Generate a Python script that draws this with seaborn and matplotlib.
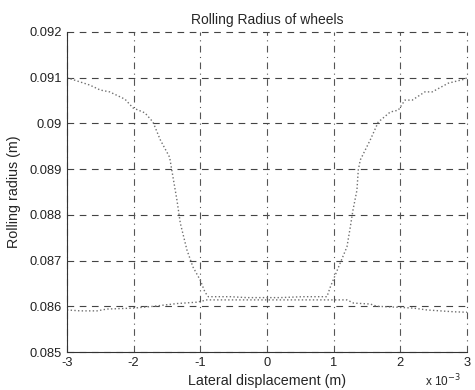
import matplotlib
matplotlib.use("Agg")
import matplotlib.pyplot as plt
import seaborn as sns
import pandas as pd

# Lateral displacement in units of 1e-3 m
upper_x = [-3.0, -2.66, -2.5, -2.36, -2.13, -2.01, -1.83, -1.71, -1.6, -1.46, -1.41,
           -1.35, -1.3, -1.2, -1.11, -1.0, -0.93, -0.88, -0.55, -0.3, 0.2, 0.54, 0.9,
           0.95, 1.1, 1.2, 1.25, 1.29, 1.35, 1.37, 1.4, 1.55, 1.67, 1.85, 1.97, 2.07,
           2.18, 2.37, 2.48, 2.72, 2.97, 3.0]
upper_r = [0.0910, 0.09084, 0.09073, 0.09069, 0.09053, 0.09034, 0.09023, 0.09003,
           0.08964, 0.08926, 0.08883, 0.08832, 0.08782, 0.08723, 0.08686, 0.08657,
           0.08631, 0.08621, 0.08621, 0.08619, 0.08619, 0.08621, 0.08621, 0.08642,
           0.08695, 0.0873, 0.08773, 0.0881, 0.08854, 0.08898, 0.0892, 0.08964,
           0.09003, 0.09025, 0.09029, 0.09051, 0.09051, 0.09069, 0.09069, 0.09088,
           0.09097, 0.0910]

lower_x = [-3.0, -2.8, -2.55, -2.4, -2.0, -1.7, -1.35, -1.05, -0.9, -0.55, 0.55,
           1.2, 1.3, 1.55, 1.65, 1.95, 2.2, 2.4, 2.6, 2.8, 3.0]
lower_r = [0.08592, 0.0859, 0.0859, 0.08594, 0.08596, 0.086, 0.08606, 0.08609,
           0.08614, 0.08614, 0.08614, 0.08614, 0.08607, 0.08605, 0.086, 0.08598,
           0.08596, 0.08592, 0.0859, 0.08588, 0.08587]

x_ticks = [-3, -2, -1, 0, 1, 2, 3]
y_ticks = [0.085, 0.086, 0.087, 0.088, 0.089, 0.09, 0.091, 0.092]
y_labels = ["0.085", "0.086", "0.087", "0.088", "0.089", "0.09", "0.091", "0.092"]

df = pd.concat([
    pd.DataFrame({"x": upper_x, "r": upper_r, "wheel": "a"}),
    pd.DataFrame({"x": lower_x, "r": lower_r, "wheel": "b"}),
])

sns.set_style("white")
plt.rcParams["font.family"] = ["Liberation Sans", "DejaVu Sans"]

fig = plt.figure(figsize=(4.75, 3.9), dpi=100)
ax = fig.add_axes([0.141, 0.0974, 0.842, 0.8206])

sns.lineplot(data=df, x="x", y="r", units="wheel", estimator=None, sort=False,
             color="#707070", lw=1.0, linestyle=":", ax=ax, legend=False)

ax.set_xlim(-3, 3)
ax.set_ylim(0.085, 0.092)
ax.set_xticks(x_ticks)
ax.set_xticklabels([str(t) for t in x_ticks])
ax.set_yticks(y_ticks)
ax.set_yticklabels(y_labels)
ax.tick_params(direction="in", length=3, labelsize=9.3, colors="#222", width=0.7)

for y in y_ticks:
    ax.axhline(y, color="#444", lw=0.8, linestyle=(0, (6, 5)), zorder=0, clip_on=False)
for x in x_ticks:
    ax.axvline(x, color="#555", lw=0.8, linestyle=(0, (6, 4, 1, 4)), zorder=0, clip_on=False)

for s in ["top", "right"]:
    ax.spines[s].set_visible(False)
for s in ["left", "bottom"]:
    ax.spines[s].set_color("#333")
    ax.spines[s].set_linewidth(0.8)

ax.set_title("Rolling Radius of wheels", fontsize=10, pad=6)
ax.set_xlabel("Lateral displacement (m)", fontsize=10.3, labelpad=4)
ax.set_ylabel("Rolling radius (m)", fontsize=10.3, labelpad=6)
fig.text(0.895, 0.003, r"x 10$^{-3}$", fontsize=8.5, ha="left", va="bottom")

fig.savefig("out.png", dpi=100)
